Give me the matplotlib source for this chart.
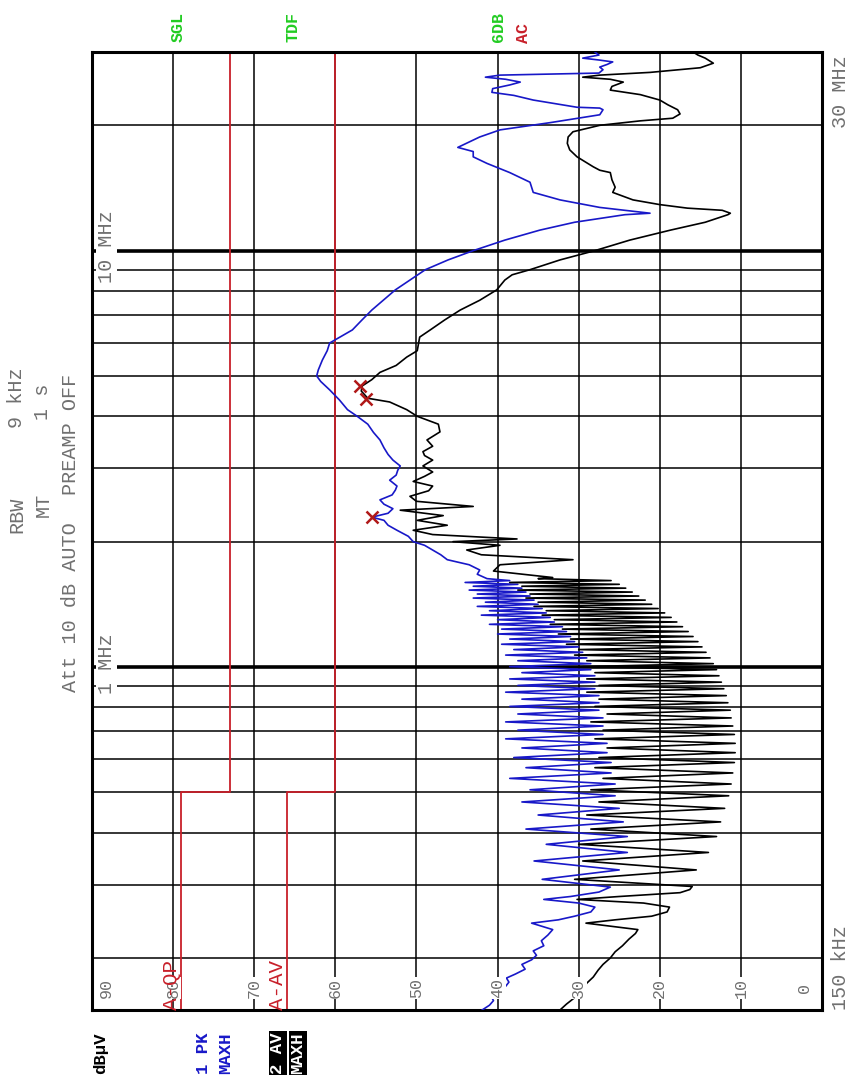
import numpy as np
import matplotlib
matplotlib.use("Agg")
import matplotlib.pyplot as plt

plt.rcParams["font.family"] = ["Liberation Mono", "DejaVu Sans Mono"]

W, H = 851, 1084

# ---- scan results: frequency in MHz, level in dBuV ----

# 150 kHz .. 300 kHz
pk_low_mhz = [0.150, 0.154, 0.158, 0.162, 0.167, 0.171, 0.175, 0.179, 0.183, 0.188,
              0.193, 0.198, 0.203, 0.208, 0.214, 0.220, 0.227, 0.234, 0.2425, 0.247,
              0.252, 0.258, 0.265, 0.271, 0.2765, 0.281, 0.288, 0.296]
pk_low_dbuv = [41.9, 41.0, 40.5, 40.8, 40.1, 39.0, 38.6, 38.9, 37.8, 36.6,
               37.0, 35.8, 35.2, 35.6, 34.3, 34.6, 33.8, 33.2, 35.8, 32.5,
               30.5, 28.5, 28.0, 30.0, 34.3, 31.0, 27.5, 26.1]
av_low_mhz = [0.150, 0.155, 0.160, 0.167, 0.174, 0.180, 0.187, 0.193, 0.200, 0.207,
              0.214, 0.222, 0.229, 0.234, 0.2425, 0.247, 0.252, 0.258, 0.265, 0.271,
              0.2765, 0.281, 0.287, 0.292, 0.297]
av_low_dbuv = [32.3, 31.5, 30.6, 29.6, 29.0, 28.2, 27.6, 27.0, 26.1, 25.5,
               24.6, 23.8, 23.0, 22.7, 29.1, 25.5, 21.0, 19.1, 18.8, 22.0,
               30.2, 25.0, 17.5, 16.3, 16.0]

# 300 kHz .. 1.6 MHz: harmonic lines and the dips between them
comb_mhz = [0.309, 0.342, 0.375, 0.408, 0.441, 0.474, 0.507, 0.540, 0.573, 0.606,
            0.639, 0.672, 0.705, 0.738, 0.771, 0.804, 0.837, 0.870, 0.903, 0.936,
            0.969, 1.002, 1.035, 1.068, 1.101, 1.134, 1.167, 1.200, 1.233, 1.266,
            1.299, 1.332, 1.365, 1.398, 1.431, 1.464, 1.497, 1.530, 1.563, 1.596]
comb_dip_mhz = [0.3255, 0.3585, 0.3915, 0.4245, 0.4575, 0.4905, 0.5235, 0.5565, 0.5895, 0.6225,
                0.6555, 0.6885, 0.7215, 0.7545, 0.7875, 0.8205, 0.8535, 0.8865, 0.9195, 0.9525,
                0.9855, 1.0185, 1.0515, 1.0845, 1.1175, 1.1505, 1.1835, 1.2165, 1.2495, 1.2825,
                1.3155, 1.3485, 1.3815, 1.4145, 1.4475, 1.4805, 1.5135, 1.5465, 1.5795, 1.6125]
pk_comb_peak = [34.5, 35.5, 34.0, 36.5, 35.0, 37.0, 36.0, 38.5, 36.5, 38.0,
                37.0, 39.0, 37.5, 39.0, 37.5, 38.5, 37.0, 39.0, 37.5, 38.5,
                37.0, 38.5, 37.5, 39.0, 38.0, 39.5, 38.5, 40.0, 39.5, 41.0,
                40.0, 42.0, 41.0, 42.5, 41.5, 43.0, 42.5, 43.5, 43.0, 44.0]
pk_comb_dip = [25.0, 24.0, 24.0, 24.5, 25.0, 25.5, 25.5, 26.0, 26.0, 26.5,
               26.5, 27.0, 27.0, 27.0, 27.5, 27.5, 27.5, 28.0, 28.0, 28.0,
               28.5, 28.5, 29.0, 29.5, 30.0, 30.5, 31.0, 31.5, 32.0, 33.0,
               33.5, 34.0, 34.5, 35.0, 35.5, 36.0, 36.5, 37.0, 37.5, 38.5]
av_comb_peak = [30.5, 29.5, 30.0, 28.5, 29.0, 27.5, 28.5, 27.0, 28.0, 27.5,
                26.5, 28.0, 27.0, 28.5, 26.5, 28.0, 27.5, 29.0, 27.5, 29.0,
                28.0, 29.5, 29.0, 30.5, 30.0, 31.5, 31.0, 32.5, 32.0, 33.5,
                33.0, 34.5, 34.0, 35.5, 35.0, 36.5, 36.0, 37.5, 37.0, 38.5]
av_comb_dip = [15.5, 14.0, 13.0, 12.5, 12.0, 11.5, 11.2, 11.0, 10.8, 10.7,
               10.7, 10.8, 11.0, 11.2, 11.3, 11.6, 11.8, 12.1, 12.4, 12.7,
               13.0, 13.4, 13.8, 14.3, 14.8, 15.3, 15.9, 16.5, 17.2, 17.9,
               18.6, 19.4, 20.2, 21.0, 21.8, 22.6, 23.4, 24.2, 25.0, 26.0]

# 1.6 MHz .. 30 MHz
pk_high_mhz = [1.63, 1.67, 1.71, 1.76, 1.81, 1.86, 1.91, 1.96, 2.00, 2.06,
               2.13, 2.19, 2.25, 2.29, 2.34, 2.40, 2.46, 2.52, 2.59, 2.66,
               2.72, 2.81, 2.89, 2.97, 3.04, 3.14, 3.24, 3.36, 3.51, 3.66,
               3.83, 4.00, 4.15, 4.38, 4.63, 4.85, 5.00, 5.17, 5.46, 5.75,
               6.00, 6.45, 6.82, 7.20, 7.60, 8.05, 8.50, 9.00, 9.50, 10.0,
               10.6, 11.2, 11.7, 12.2, 12.3, 12.7, 13.24, 13.8, 14.6, 15.4,
               16.2, 16.8, 17.3, 17.7, 18.75, 19.5, 20.3, 21.2, 21.8, 22.0,
               22.1, 23.0, 23.6, 24.0, 24.5, 25.0, 25.4, 25.8, 26.1, 26.4,
               26.7, 27.2, 27.6, 28.0, 28.4, 28.7, 29.0, 29.5, 30.0]
pk_high_dbuv = [41.3, 42.5, 42.2, 43.5, 46.2, 47.0, 48.0, 49.0, 50.4, 51.0,
                52.4, 53.5, 54.0, 55.5, 53.5, 52.9, 54.0, 54.5, 53.0, 52.6,
                52.4, 53.3, 52.5, 52.3, 52.0, 52.9, 53.5, 54.0, 54.5, 55.3,
                56.0, 57.3, 58.5, 59.5, 60.7, 61.8, 62.3, 62.1, 61.6, 61.0,
                60.7, 57.9, 56.7, 55.5, 54.1, 52.6, 50.8, 48.9, 46.1, 43.0,
                39.1, 34.8, 30.5, 24.3, 21.2, 27.4, 32.3, 35.6, 36.0, 38.5,
                41.3, 43.0, 43.0, 44.9, 42.2, 39.7, 33.5, 27.4, 27.0, 27.4,
                30.2, 35.6, 38.0, 40.7, 40.6, 38.5, 37.2, 39.0, 41.5, 39.7,
                27.5, 27.0, 27.4, 26.5, 25.8, 27.5, 29.5, 27.5, 28.0]
av_high_mhz = [1.63, 1.64, 1.70, 1.76, 1.81, 1.86, 1.91, 1.96, 2.00, 2.03,
               2.08, 2.13, 2.19, 2.25, 2.31, 2.38, 2.43, 2.50, 2.57, 2.65,
               2.72, 2.79, 2.87, 2.94, 3.04, 3.14, 3.22, 3.29, 3.39, 3.51,
               3.67, 3.83, 4.00, 4.15, 4.33, 4.42, 4.60, 4.73, 4.90, 5.10,
               5.30, 5.55, 5.75, 6.20, 6.45, 6.82, 7.20, 7.60, 8.05, 8.50,
               8.75, 9.00, 9.50, 10.0, 10.6, 11.2, 11.7, 12.2, 12.3, 12.5,
               12.65, 12.9, 13.24, 13.8, 14.2, 14.8, 15.4, 15.6, 15.9, 16.8,
               17.46, 18.1, 18.75, 19.3, 20.0, 20.5, 20.8, 21.3, 21.8, 22.4,
               23.0, 23.7, 24.3, 24.8, 25.4, 25.8, 26.1, 26.4, 26.8, 27.5,
               28.2, 29.0, 29.5, 30.0]
av_high_dbuv = [35.0, 33.2, 40.5, 39.7, 30.7, 42.0, 43.8, 39.7, 45.5, 37.6,
                48.0, 50.4, 46.2, 49.9, 46.7, 52.0, 43.0, 50.0, 50.8, 48.5,
                48.0, 50.4, 49.0, 48.0, 49.2, 48.0, 49.0, 49.2, 48.0, 48.7,
                47.1, 47.3, 49.9, 51.2, 53.3, 56.0, 56.8, 56.7, 55.5, 54.5,
                52.5, 51.2, 49.9, 49.6, 48.3, 46.5, 44.6, 42.2, 40.1, 39.1,
                38.2, 36.0, 32.3, 28.0, 23.7, 18.7, 14.4, 11.6, 11.3, 12.3,
                16.6, 20.0, 23.3, 25.8, 25.5, 25.9, 26.1, 27.4, 28.2, 30.2,
                31.1, 31.4, 31.3, 30.7, 27.4, 22.4, 18.4, 17.5, 17.8, 19.0,
                20.0, 22.4, 26.1, 25.9, 24.5, 26.1, 29.5, 27.4, 21.2, 15.0,
                13.4, 14.4, 15.3, 15.9]

# final measurement markers
marker_mhz = [2.29, 4.40, 4.72]
marker_dbuv = [55.5, 56.2, 57.0]

# class A limit lines (QP / AV), step at 500 kHz
limit_mhz = [0.15, 0.5, 0.5, 30.0]
qp_limit = [79, 79, 73, 73]
av_limit = [66, 66, 60, 60]

freq_grid = [0.2, 0.3, 0.4, 0.5, 0.6, 0.7, 0.8, 0.9, 2, 3, 4, 5, 6, 7, 8, 9, 20]
freq_major = [1, 10]
freq_major_labels = ["1 MHz", "10 MHz"]
level_grid = [10, 20, 30, 40, 50, 60, 70, 80]
level_ticks = [90, 80, 70, 60, 50, 40, 30, 20, 10, 0]


def zigzag(peak_f, dip_f, peak_v, dip_v):
    f = np.column_stack([peak_f, dip_f]).ravel()
    v = np.column_stack([peak_v, dip_v]).ravel()
    return f, v


cf, pkc = zigzag(comb_mhz, comb_dip_mhz, pk_comb_peak, pk_comb_dip)
_, avc = zigzag(comb_mhz, comb_dip_mhz, av_comb_peak, av_comb_dip)
pk_f = np.concatenate([pk_low_mhz, cf, pk_high_mhz])
pk_v = np.concatenate([pk_low_dbuv, pkc, pk_high_dbuv])
av_f = np.concatenate([av_low_mhz, cf, av_high_mhz])
av_v = np.concatenate([av_low_dbuv, avc, av_high_dbuv])

# the analyzer screen is turned on its side: level runs right-to-left,
# frequency runs bottom-to-top
fig = plt.figure(figsize=(W / 100, H / 100), dpi=100)
ax = fig.add_axes([92 / W, 1 - 1010 / H, 730 / W, 958 / H])
ax.set_xlim(90, 0)
ax.set_yscale("log")
ax.set_ylim(0.15, 30)
ax.set_xticks([])
ax.set_yticks([])
ax.minorticks_off()
for s in ax.spines.values():
    s.set_linewidth(2.2)

for v in level_grid:
    ax.axvline(v, color="black", lw=1.1, zorder=1)
for f in freq_grid:
    ax.axhline(f, color="black", lw=1.1, zorder=1)
for f in freq_major:
    ax.axhline(f, color="black", lw=2.6, zorder=1)

red = "#c8202a"
ax.plot(qp_limit, limit_mhz, color=red, lw=1.3, zorder=2)
ax.plot(av_limit, limit_mhz, color=red, lw=1.3, zorder=2)

ax.plot(pk_v, pk_f, color="#1818c8", lw=1.2, zorder=3)
ax.plot(av_v, av_f, color="black", lw=1.2, zorder=4)
ax.plot(marker_dbuv, marker_mhz, "x", color="#b01818", ms=9, mew=1.8, zorder=5)

gray = "#707070"
white_box = dict(facecolor="white", edgecolor="none", pad=0.6)

# level scale written inside the frame, near the low-frequency edge
xt = ax.get_xaxis_transform()
for v in level_ticks:
    ax.text(float(np.clip(v, 2.2, 88.2)), 0.023, str(v), transform=xt, rotation=90,
            ha="center", va="center", fontsize=12, color=gray, bbox=white_box, zorder=6)

for f, lab in zip(freq_major, freq_major_labels):
    ax.text(88.2, f * 1.02, lab, rotation=90, ha="center", va="center",
            fontsize=14.5, color=gray, bbox=white_box, zorder=6)

ax.text(79, 0.15, "A-QP", rotation=90, ha="right", va="bottom", fontsize=15,
        color=red, zorder=7)
ax.text(66, 0.15, "A-AV", rotation=90, ha="right", va="bottom", fontsize=15,
        color=red, zorder=7)


def side_text(x, y, s, **kw):
    kw.setdefault("ha", "center")
    kw.setdefault("va", "center")
    fig.text(x / W, 1 - y / H, s, rotation=90, **kw)


# setup header
side_text(17, 515, "RBW", fontsize=14.5, color=gray)
side_text(17, 398, "9 kHz", fontsize=14.5, color=gray)
side_text(43, 505, "MT", fontsize=14.5, color=gray)
side_text(43, 402, "1 s", fontsize=14.5, color=gray)
side_text(70, 607, "Att 10 dB AUTO", fontsize=14.5, color=gray)
side_text(70, 434, "PREAMP OFF", fontsize=14.5, color=gray)

# span
side_text(840, 1010, "150 kHz", va="bottom", fontsize=14.5, color=gray)
side_text(840, 55, "30 MHz", va="top", fontsize=14.5, color=gray)

# status flags
side_text(178, 27, "SGL", fontsize=12, weight="bold", color="#22cc22")
side_text(293, 27, "TDF", fontsize=12, weight="bold", color="#22cc22")
side_text(499, 27, "6DB", fontsize=12, weight="bold", color="#22cc22")
side_text(523, 33, "AC", fontsize=12, weight="bold", color=red)

# trace legend
side_text(101, 1053, "dBµV", fontsize=12.5, weight="bold", color="black")
side_text(203, 1053, "1 PK", fontsize=12.5, weight="bold", color="#1818c8")
side_text(226, 1053, "MAXH", fontsize=12.5, weight="bold", color="#1818c8")
side_text(278, 1053, "2 AV", fontsize=12.5, weight="bold", color="white",
          bbox=dict(facecolor="black", edgecolor="none", pad=1.2))
side_text(298, 1053, "MAXH", fontsize=12.5, weight="bold", color="white",
          bbox=dict(facecolor="black", edgecolor="none", pad=1.2))

fig.savefig("out.png", dpi=100)
